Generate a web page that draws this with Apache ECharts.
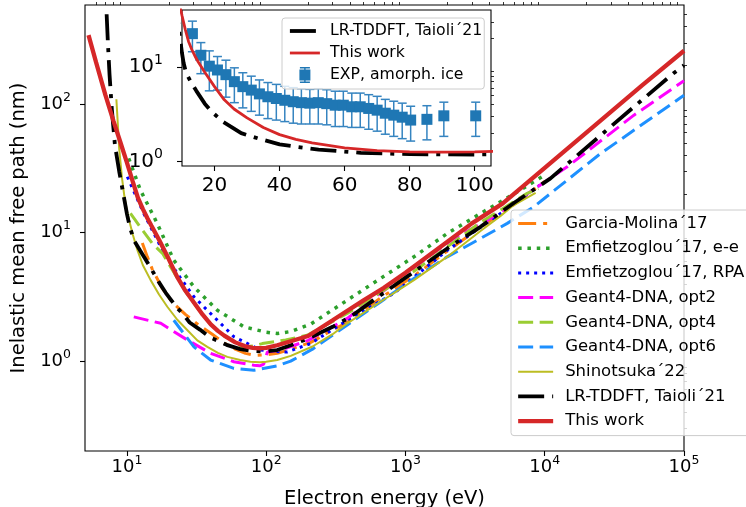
<!DOCTYPE html>
<html>
<head>
<meta charset="utf-8">
<script src="https://cdn.jsdelivr.net/npm/echarts@6/dist/echarts.min.js"></script>
<style>
  html, body { margin: 0; padding: 0; background: #fff; }
  #chart { width: 746px; height: 507px; }
</style>
</head>
<body>
<div id="chart"></div>
<script>
const FONT = 'DejaVu Sans';

// Electron energy (eV) and inelastic mean free path (nm) of each data set
const garciaE = [12.9, 14, 15.2, 17.9, 21, 26.4, 33, 41, 50, 60, 71, 82, 100, 120, 150, 209, 300, 382, 662, 1150, 2000, 3460, 6000, 10000];
const garciaL = [8.3, 6.5, 5.2, 3.7, 2.9, 2.3, 1.9, 1.62, 1.38, 1.24, 1.15, 1.11, 1.12, 1.15, 1.24, 1.4, 1.75, 2.0, 3.1, 4.6, 7.2, 11, 16.5, 25];

const emfEeE = [10.3, 12.5, 16.5, 21.7, 30.3, 44.6, 69.2, 100, 120, 150, 210, 382, 662, 1150, 2000, 3460, 6000, 10000];
const emfEeL = [37.8, 21.4, 11.8, 6.1, 3.78, 2.49, 1.85, 1.68, 1.64, 1.7, 1.95, 2.98, 4.4, 6.48, 9.86, 14.1, 20, 28];

const emfRpaE = [10.07, 13.2, 17.5, 23, 30.3, 42.2, 58.6, 91.2, 127, 142, 208, 382, 826, 2000, 5000, 9500];
const emfRpaL = [27.2, 14.1, 7.75, 4.81, 3.16, 2.21, 1.55, 1.22, 1.18, 1.18, 1.37, 2.08, 3.37, 7.3, 14.5, 24];

const opt2E = [11.2, 17.5, 27.2, 39.9, 58.6, 81.7, 90, 96, 102, 127, 200, 382, 662, 1514, 2224, 3880, 4820, 14500, 43700, 100000];
const opt2L = [2.21, 1.97, 1.46, 1.15, 0.99, 0.93, 0.92, 0.95, 1.18, 1.22, 1.45, 2.15, 3.37, 6.68, 9.01, 12.5, 14.5, 32.5, 82, 152];

const opt4E = [10.6, 12.9, 15.2, 18, 22, 27, 33, 40, 50, 60, 67.4, 80, 93.8, 138, 197, 382, 1150, 3460, 7480, 9000];
const opt4L = [14.1, 10.5, 8.24, 6.9, 4.8, 3.35, 2.5, 1.93, 1.57, 1.4, 1.29, 1.31, 1.37, 1.46, 1.59, 2.35, 5.0, 12.0, 20.2, 22];

const opt6E = [21.7, 30.3, 39.9, 58.6, 81.7, 120, 150, 215, 382, 662, 1150, 1995, 3460, 5380, 8360, 25200, 100000];
const opt6L = [2.08, 1.29, 1.02, 0.88, 0.85, 0.92, 1.0, 1.24, 1.91, 2.89, 4.4, 6.48, 9.01, 11.8, 15.9, 41.3, 117];

const shinoE = [8.4, 8.6, 8.8, 9.2, 9.6, 10.1, 11, 11.9, 13, 14.8, 17, 19.5, 23, 27.2, 32, 37.8, 45, 52.6, 65, 77, 90, 100, 120, 150, 215, 300, 382, 662, 1150, 2000, 3460, 4820, 6000, 8600];
const shinoL = [109, 70, 45, 27, 19, 14, 9.7, 7.3, 5.6, 4.27, 3.3, 2.65, 2.1, 1.74, 1.45, 1.29, 1.16, 1.08, 1.02, 0.99, 0.98, 0.99, 1.02, 1.1, 1.3, 1.62, 1.97, 2.9, 4.27, 6.5, 10.3, 13.5, 16.4, 20.4];

const taioliE = [7.15, 7.3, 7.5, 7.8, 8.2, 8.8, 9.5, 10, 10.5, 11.3, 12.5, 14.4, 17, 19, 22.6, 25, 28.2, 33.4, 40, 45, 52, 65, 80, 100, 120, 150, 200, 300, 400, 662, 1150, 1995, 3460, 6000, 11000, 29700, 83600, 100000];
const taioliL = [500, 300, 170, 90, 48, 30, 19, 14, 11, 8.6, 7.2, 5.6, 4.1, 3.4, 2.64, 2.35, 2.0, 1.76, 1.52, 1.44, 1.34, 1.24, 1.2, 1.19, 1.22, 1.33, 1.5, 1.85, 2.2, 3.26, 4.95, 7.53, 11.1, 17, 26.4, 66.6, 173, 200];

const thisWorkE = [5.3, 6, 7, 8, 9, 10, 11, 12, 13, 14, 15, 17, 20, 23, 26, 30, 35, 40, 45, 50, 60, 70, 80, 90, 100, 120, 150, 200, 300, 500, 700, 1000, 2000, 3000, 5000, 10000, 20000, 50000, 100000];
const thisWorkL = [344, 212, 118, 74, 50, 35, 25, 18.6, 15.3, 13.0, 11.3, 8.8, 6.2, 4.5, 3.6, 2.9, 2.3, 1.93, 1.72, 1.58, 1.4, 1.31, 1.27, 1.26, 1.27, 1.33, 1.43, 1.57, 2.08, 2.97, 3.72, 4.88, 8.48, 11.8, 16.9, 31.9, 60.3, 140, 260];

// Amorphous ice measurements: energy, IMFP and its uncertainty
const expE = [13.2, 15.8, 18.4, 20.9, 23.5, 26.1, 28.7, 31.3, 33.8, 36.4, 39.0, 41.6, 44.2, 46.7, 49.3, 51.9, 54.5, 57.1, 59.6, 62.2, 64.8, 67.4, 70.0, 72.5, 75.1, 77.7, 80.3, 85.3, 90.5, 100.3];
const expL = [22.5, 13.3, 10.2, 9.3, 8.3, 7.0, 6.2, 5.7, 5.2, 4.85, 4.65, 4.45, 4.3, 4.2, 4.15, 4.2, 4.1, 3.95, 3.95, 3.8, 3.8, 3.65, 3.5, 3.25, 3.1, 2.95, 2.75, 2.8, 3.05, 3.05];
const expErr = [8, 4.8, 4.6, 3.6, 3.5, 2.8, 2.5, 2.3, 2.1, 2.0, 1.9, 1.8, 1.75, 1.7, 1.65, 1.7, 1.65, 1.6, 1.6, 1.5, 1.5, 1.45, 1.4, 1.3, 1.25, 1.2, 1.1, 1.1, 1.2, 1.2];

// Axis tick values
const xMajor = [10, 100, 1000, 10000, 100000];
const yMajor = [1, 10, 100];
const insetXTicks = [20, 40, 60, 80, 100];
const insetYMajor = [1, 10];

function minorLog(lo, hi) {
  const out = [];
  for (let p = -2; p <= 5; p++) {
    for (let k = 2; k <= 9; k++) {
      const v = +(k * Math.pow(10, p)).toPrecision(6);
      if (v > lo && v < hi) out.push(v);
    }
  }
  return out;
}

const pairs = (xs, ys) => xs.map((x, i) => [x, ys[i]]);

function powLabel(v) {
  const e = Math.round(Math.log10(v));
  return '{b|10}{s|' + e + '}';
}

function richFor(base, sup, raise) {
  return {
    b: { fontFamily: FONT, fontSize: base, lineHeight: base, verticalAlign: 'bottom', color: '#000' },
    s: { fontFamily: FONT, fontSize: sup, lineHeight: sup, padding: [0, 0, raise, 0], verticalAlign: 'bottom', color: '#000' }
  };
}

const tickLine = { color: '#000', width: 1.1 };
const minorLine = { color: '#000', width: 0.8 };

function logAxis(gridIndex, min, max, major, minor, rich, margin, extra) {
  return [
    Object.assign({
      type: 'log', logBase: 10, gridIndex, min, max,
      axisLine: { show: false },
      axisTick: { show: true, inside: false, length: 5, lineStyle: tickLine, customValues: major },
      axisLabel: { show: true, customValues: major, formatter: powLabel, margin, rich },
      splitLine: { show: false }, minorTick: { show: false }, minorSplitLine: { show: false }
    }, extra || {}),
    {
      type: 'log', logBase: 10, gridIndex, min, max,
      axisLine: { show: false },
      axisTick: { show: true, inside: false, length: 3, lineStyle: minorLine, customValues: minor },
      axisLabel: { show: false },
      splitLine: { show: false }
    }
  ];
}

const mainRich = richFor(18, 12.5, 9);
const insetRich = richFor(20, 14, 10);

const xAxes = [
  ...logAxis(0, 5, 100000, xMajor, minorLog(5, 100000), mainRich, 7, {
    name: 'Electron energy (eV)', nameLocation: 'middle', nameGap: 38,
    nameTextStyle: { fontFamily: FONT, fontSize: 19.5, color: '#000' }
  }),
  {
    type: 'value', gridIndex: 1, min: 10, max: 105, zlevel: 1,
    axisLine: { show: false },
    axisTick: { show: true, inside: false, length: 5, lineStyle: tickLine, customValues: insetXTicks },
    axisLabel: { show: true, customValues: insetXTicks, margin: 10, fontFamily: FONT, fontSize: 20, color: '#000' },
    splitLine: { show: false }
  }
];

const yAxes = [
  ...logAxis(0, 0.2, 590, yMajor, minorLog(0.2, 590), mainRich, 14, {
    name: 'Inelastic mean free path (nm)', nameLocation: 'middle', nameGap: 52,
    nameTextStyle: { fontFamily: FONT, fontSize: 19.5, color: '#000' }
  }),
  ...logAxis(1, 0.9, 40, insetYMajor, minorLog(0.9, 40), insetRich, 19)
];
yAxes[2].zlevel = 1;
yAxes[3].zlevel = 1;

function mainLine(name, xs, ys, color, width, dash) {
  return {
    name, type: 'line', xAxisIndex: 0, yAxisIndex: 0,
    data: pairs(xs, ys), symbol: 'none', clip: true,
    lineStyle: { color, width, type: dash || 'solid', cap: 'butt' },
    itemStyle: { color }, z: 2
  };
}

const DASH = [15, 6.5];
const series = [
  mainLine('Garcia-Molina´17', garciaE, garciaL, '#ff7f0e', 3, [18, 7, 4, 7]),
  mainLine('Emfietzoglou´17, e-e', emfEeE, emfEeL, '#2ca02c', 3.5, [3.5, 5.8]),
  mainLine('Emfietzoglou´17, RPA', emfRpaE, emfRpaL, '#0000ff', 3, [3, 5]),
  mainLine('Geant4-DNA, opt2', opt2E, opt2L, '#ff00ff', 3, DASH),
  mainLine('Geant4-DNA, opt4', opt4E, opt4L, '#9acd32', 3, DASH),
  mainLine('Geant4-DNA, opt6', opt6E, opt6L, '#1e90ff', 3, DASH),
  mainLine('Shinotsuka´22', shinoE, shinoL, '#bcbd22', 2),
  mainLine('LR-TDDFT, Taioli´21', taioliE, taioliL, '#000000', 3.8, [26, 8, 4, 8]),
  mainLine('This work', thisWorkE, thisWorkL, '#d62728', 4.3),
  // inset: error bars of the measurements
  {
    name: 'EXP, amorph. ice', type: 'custom', xAxisIndex: 2, yAxisIndex: 2, zlevel: 1, z: 1,
    data: expE.map((e, i) => [e, expL[i] - expErr[i], expL[i] + expErr[i]]),
    encode: { x: 0, y: [1, 2] },
    renderItem: (params, api) => {
      const x = api.value(0);
      const top = api.coord([x, api.value(2)]);
      const bot = api.coord([x, api.value(1)]);
      const cap = 4.5;
      const st = { stroke: '#3584c0', lineWidth: 1.5 };
      return {
        type: 'group',
        children: [
          { type: 'line', shape: { x1: top[0], y1: top[1], x2: bot[0], y2: bot[1] }, style: st },
          { type: 'line', shape: { x1: top[0] - cap, y1: top[1], x2: top[0] + cap, y2: top[1] }, style: st },
          { type: 'line', shape: { x1: bot[0] - cap, y1: bot[1], x2: bot[0] + cap, y2: bot[1] }, style: st }
        ]
      };
    }
  },
  {
    name: 'EXP, amorph. ice', type: 'scatter', xAxisIndex: 2, yAxisIndex: 2, zlevel: 1, z: 2,
    data: pairs(expE, expL), symbol: 'rect', symbolSize: 11,
    itemStyle: { color: '#1f77b4', opacity: 1 }
  },
  {
    name: 'LR-TDDFT, Taioli´21', type: 'line', xAxisIndex: 2, yAxisIndex: 2, zlevel: 1, z: 3,
    data: pairs(taioliE, taioliL), symbol: 'none', clip: true,
    lineStyle: { color: '#000', width: 3.8, type: [26, 8, 4, 8] }, itemStyle: { color: '#000' }
  },
  {
    name: 'This work', type: 'line', xAxisIndex: 2, yAxisIndex: 2, zlevel: 1, z: 4,
    data: pairs(thisWorkE, thisWorkL), symbol: 'none', clip: true,
    lineStyle: { color: '#d62728', width: 2.8 }, itemStyle: { color: '#d62728' }
  }
];

const mainNames = series.slice(0, 9).map(s => s.name);
const errIcon = 'path://M0,0H10V1.4H0Z M4.3,0H5.7V16H4.3Z M0,14.6H10V16H0Z M-0.5,2.5H10.5V13.5H-0.5Z';

const option = {
  animation: false,
  backgroundColor: '#fff',
  textStyle: { fontFamily: FONT },
  grid: [
    { left: 85, top: 5, width: 599, height: 446, show: true, borderColor: '#000', borderWidth: 1.1,
      backgroundColor: 'transparent', containLabel: false, outerBoundsMode: 'none' },
    { left: 182, top: 10, width: 309, height: 156, show: true, borderColor: '#000', borderWidth: 1.1,
      backgroundColor: '#fff', containLabel: false, outerBoundsMode: 'none', zlevel: 1 }
  ],
  xAxis: xAxes,
  yAxis: yAxes,
  legend: [
    {
      orient: 'vertical', left: 511, top: 210,
      data: mainNames,
      itemWidth: 35, itemHeight: 16, itemGap: 7.7,
      padding: [5, 12, 6, 5],
      backgroundColor: 'rgba(255,255,255,0.8)', borderColor: '#cccccc', borderWidth: 1, borderRadius: 3,
      itemStyle: { opacity: 0 },
      lineStyle: { width: 'inherit', type: 'inherit' },
      textStyle: { fontFamily: FONT, fontSize: 16.5, color: '#000', lineHeight: 16, padding: [0, 0, 0, 7] },
      selectedMode: false, z: 6
    },
    {
      orient: 'vertical', left: 282, top: 18, zlevel: 1, z: 6,
      data: [
        { name: 'LR-TDDFT, Taioli´21' },
        { name: 'This work', lineStyle: { width: 2.8 } },
        { name: 'EXP, amorph. ice', icon: errIcon, itemStyle: { opacity: 1, color: '#1f77b4' } }
      ],
      itemWidth: 30, itemHeight: 16, itemGap: 6,
      padding: [5, 2, 6, 6],
      backgroundColor: 'rgba(255,255,255,0.8)', borderColor: '#cccccc', borderWidth: 1, borderRadius: 3,
      itemStyle: { opacity: 0 },
      lineStyle: { width: 'inherit', type: 'inherit' },
      textStyle: { fontFamily: FONT, fontSize: 15.7, color: '#000', lineHeight: 16, padding: [0, 0, 0, 5] },
      selectedMode: false
    }
  ],
  series
};

const chart = echarts.init(document.getElementById('chart'), null, { renderer: 'canvas' });
chart.setOption(option);
</script>
</body>
</html>
